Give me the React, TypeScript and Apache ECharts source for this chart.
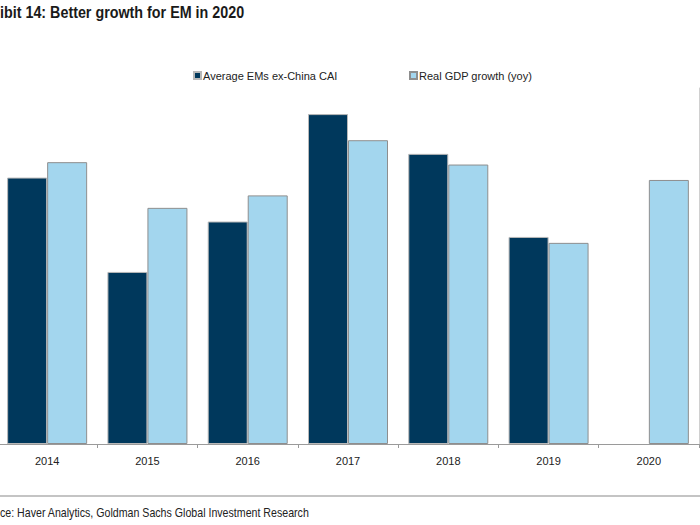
import React, { useEffect, useRef } from "react";
import * as echarts from "echarts";

const years = ["2014", "2015", "2016", "2017", "2018", "2019", "2020"];
const caiValues: (number | null)[] = [4.49, 2.9, 3.75, 5.56, 4.89, 3.49, null];
const gdpValues: number[] = [4.75, 3.98, 4.19, 5.12, 4.71, 3.39, 4.45];
const seriesNames = ["Average EMs ex-China CAI", "Real GDP growth (yoy)"];
const titleText = "ibit 14: Better growth for EM in 2020";
const sourceText = "ce: Haver Analytics, Goldman Sachs Global Investment Research";

const DARK = "#00385c";
const LIGHT = "#a3d6ee";
const SANS = '"Liberation Sans", Arial, sans-serif';
const OFF = 3; // chart div is shifted left by this many pixels

export default function App() {
  const ref = useRef<HTMLDivElement>(null);
  useEffect(() => {
    if (!ref.current) return;
    const chart = echarts.init(ref.current, null, { renderer: "svg" });
    chart.setOption({
      animation: false,
      backgroundColor: "#ffffff",
      legend: [
        {
          data: [seriesNames[0]],
          left: 188 + OFF,
          top: 65,
          itemWidth: 7,
          itemHeight: 7,
          icon: "rect",
          textStyle: { fontFamily: SANS, fontSize: 11, color: "#222", padding: [0, 0, 0, -3] },
        },
        {
          data: [seriesNames[1]],
          left: 404 + OFF,
          top: 65,
          itemWidth: 7,
          itemHeight: 7,
          icon: "rect",
          textStyle: { fontFamily: SANS, fontSize: 11, color: "#222", padding: [0, 0, 0, -3] },
        },
      ],
      grid: { left: 0, right: 1, top: 88, bottom: 81, containLabel: false },
      xAxis: {
        type: "category",
        data: years,
        axisLine: { show: true, lineStyle: { color: "#9a9a9a", width: 1 } },
        axisTick: { show: true, length: 4, lineStyle: { color: "#9a9a9a" } },
        axisLabel: { fontFamily: SANS, fontSize: 11, color: "#222", margin: 11 },
        splitLine: { show: false },
      },
      yAxis: {
        type: "value",
        min: 0,
        max: 6,
        position: "right",
        axisLine: { show: true, lineStyle: { color: "#d0d0d0", width: 1 } },
        axisTick: { show: false },
        axisLabel: { show: false },
        splitLine: { show: false },
      },
      series: [
        {
          name: seriesNames[0],
          type: "bar",
          data: caiValues,
          barWidth: 40,
          barGap: "0%",
          itemStyle: { color: DARK, borderColor: "#b8b8b8", borderWidth: 1 },
        },
        {
          name: seriesNames[1],
          type: "bar",
          data: gdpValues,
          barWidth: 40,
          itemStyle: { color: LIGHT, borderColor: "#8e8e8e", borderWidth: 1 },
        },
      ],
      graphic: [
        {
          type: "text",
          x: OFF,
          y: 4,
          scaleX: 0.895,
          style: {
            text: titleText,
            font: `bold 16px ${SANS}`,
            fill: "#1a1a1a",
            textVerticalAlign: "top",
          },
        },
        {
          type: "line",
          shape: { x1: 0, y1: 496, x2: 710, y2: 496 },
          style: { stroke: "#b0b0b0", lineWidth: 1.5 },
        },
        {
          type: "text",
          x: OFF,
          y: 507,
          scaleX: 0.886,
          style: {
            text: sourceText,
            font: `12px ${SANS}`,
            fill: "#222",
            textVerticalAlign: "top",
          },
        },
      ],
    });
    return () => chart.dispose();
  }, []);
  return (
    <div
      ref={ref}
      style={{ position: "fixed", left: -OFF, top: 0, width: 700 + OFF, height: 525, background: "#fff" }}
    />
  );
}
